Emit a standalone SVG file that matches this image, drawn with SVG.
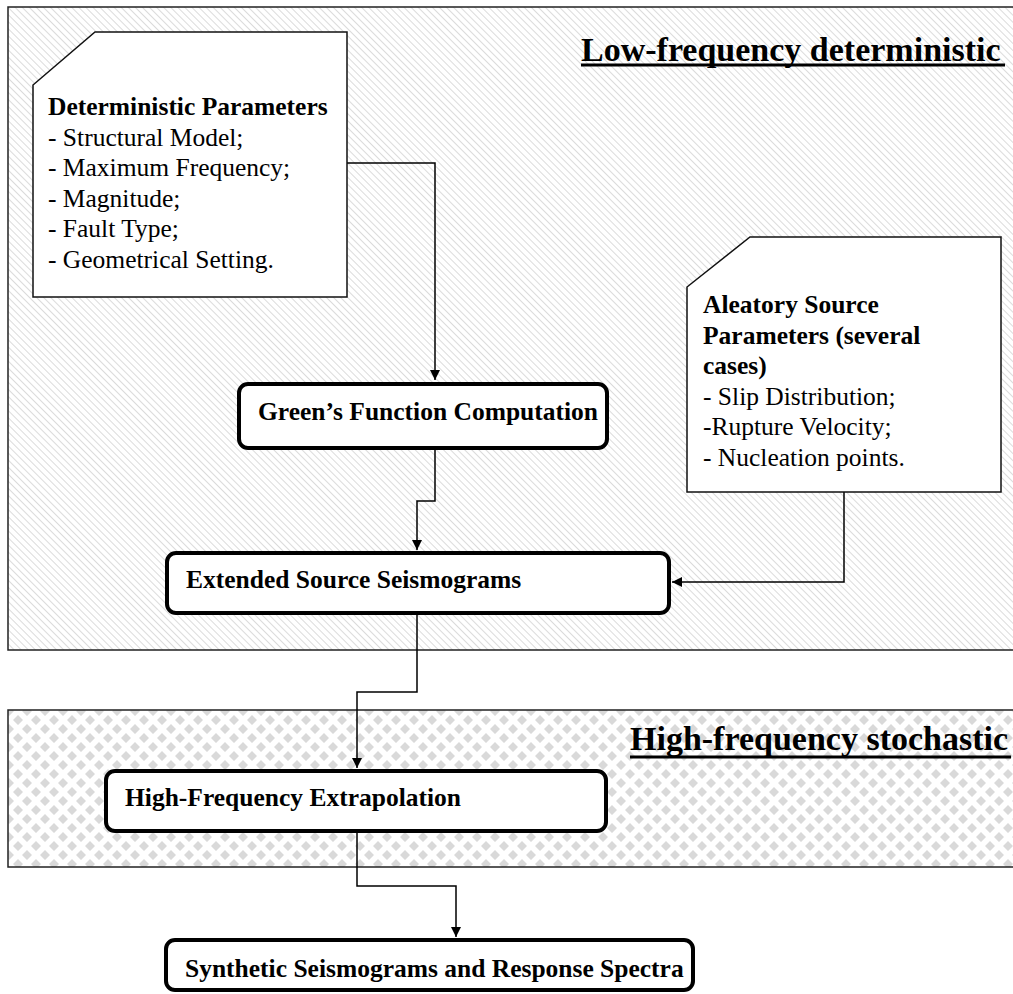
<svg xmlns="http://www.w3.org/2000/svg" width="1013" height="994" viewBox="0 0 1013 994">
<style>
text{font-family:"Liberation Serif","Times New Roman",serif;font-size:25.5px;fill:#000}
.b{font-weight:bold}
.title{font-weight:bold;font-size:34px}
.panel{stroke:#222;stroke-width:1.5}
.note{fill:#fff;stroke:#111;stroke-width:1.5}
.node{fill:#fff;stroke:#000;stroke-width:4}
.conn{fill:none;stroke:#000;stroke-width:1.5}
</style>
<defs>
<pattern id="hatch" width="5" height="5" patternUnits="userSpaceOnUse" patternTransform="rotate(-45)">
<rect width="5" height="5" fill="#fff"/>
<line x1="0" y1="0" x2="0" y2="5" stroke="#c8c8c8" stroke-width="1.3"/>
</pattern>
<pattern id="diam" width="18" height="18" patternUnits="userSpaceOnUse">
<rect width="18" height="18" fill="#fff"/>
<path d="M0-5L5 0L0 5L-5 0Z M18-5L23 0L18 5L13 0Z M0 13L5 18L0 23L-5 18Z M18 13L23 18L18 23L13 18Z M9 4L14 9L9 14L4 9Z" fill="#d9d9d9"/>
</pattern>
<marker id="arr" viewBox="0 0 10 10" refX="10" refY="5" markerWidth="10" markerHeight="10" markerUnits="userSpaceOnUse" orient="auto">
<path d="M0 0L10 5L0 10Z" fill="#000"/>
</marker>
</defs>
<rect width="1013" height="994" fill="#fff"/>
<g id="panel-low">
<rect class="panel" x="8" y="7" width="1030" height="643" fill="url(#hatch)"/>
<text class="title" x="581" y="61">Low-frequency deterministic</text>
<rect x="581" y="63.5" width="424" height="3" fill="#000"/>
</g>
<g id="panel-high">
<rect class="panel" x="8" y="710" width="1030" height="157" fill="url(#diam)"/>
<text class="title" x="630" y="750">High-frequency stochastic</text>
<rect x="630" y="755.5" width="381" height="3" fill="#000"/>
</g>
<g id="connectors">
<path class="conn" d="M347 163H435V380" marker-end="url(#arr)"/>
<path class="conn" d="M435 450V501H417V550" marker-end="url(#arr)"/>
<path class="conn" d="M844 492V582H672" marker-end="url(#arr)"/>
<path class="conn" d="M417 615V692H357V768" marker-end="url(#arr)"/>
<path class="conn" d="M357 833V886H456V937" marker-end="url(#arr)"/>
</g>
<g id="deterministic-parameters">
<path class="note" d="M95 32H347V297H33V85Z"/>
<text class="b" x="48" y="115">Deterministic Parameters</text>
<text x="48" y="145.6">- Structural Model;</text>
<text x="48" y="176.2">- Maximum Frequency;</text>
<text x="48" y="206.8">- Magnitude;</text>
<text x="48" y="237.4">- Fault Type;</text>
<text x="48" y="268">- Geometrical Setting.</text>
</g>
<g id="aleatory-parameters">
<path class="note" d="M750 237H1001V492H687V287Z"/>
<text class="b" x="703" y="313">Aleatory Source</text>
<text class="b" x="703" y="343.5">Parameters (several</text>
<text class="b" x="703" y="374">cases)</text>
<text x="703" y="404.5">- Slip Distribution;</text>
<text x="703" y="435">-Rupture Velocity;</text>
<text x="703" y="465.5">- Nucleation points.</text>
</g>
<g id="greens-function">
<rect class="node" x="239" y="384" width="368" height="64" rx="9"/>
<text class="b" x="258" y="420">Green’s Function Computation</text>
</g>
<g id="extended-source">
<rect class="node" x="167" y="553" width="502" height="60" rx="9"/>
<text class="b" x="186" y="588">Extended Source Seismograms</text>
</g>
<g id="high-frequency">
<rect class="node" x="106" y="771" width="500" height="60" rx="9"/>
<text class="b" x="125" y="806">High-Frequency Extrapolation</text>
</g>
<g id="synthetic">
<rect class="node" x="166" y="940" width="527" height="50" rx="9"/>
<text class="b" x="185" y="977">Synthetic Seismograms and Response Spectra</text>
</g>
</svg>
